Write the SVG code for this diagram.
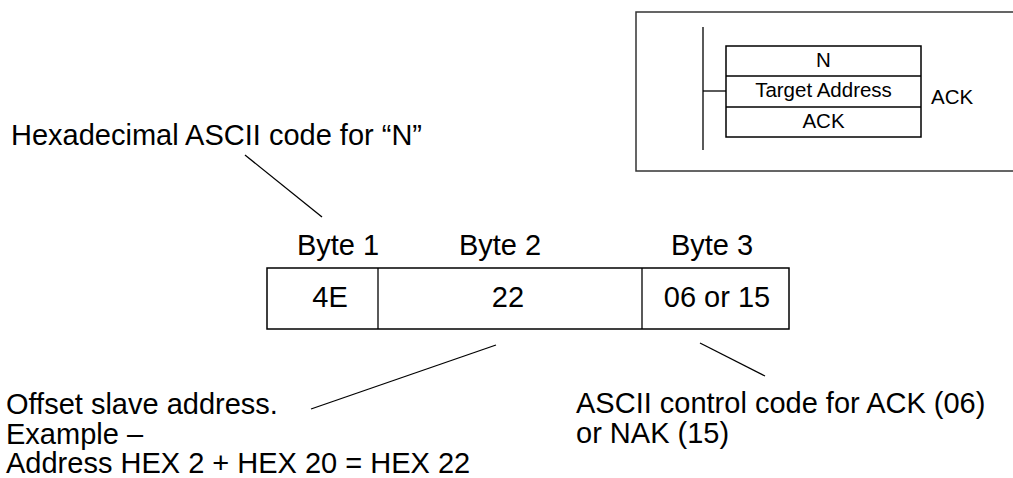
<svg xmlns="http://www.w3.org/2000/svg" width="1013" height="478" viewBox="0 0 1013 478">
<style>
  text { font-family: "Liberation Sans", Arial, sans-serif; fill: #000; }
  .big { font-size: 29px; }
  .sm { font-size: 20.5px; }
  .mid { text-anchor: middle; }
  .box { fill: #fff; stroke: #000; stroke-width: 1.5; }
  .ln { stroke: #000; stroke-width: 1.3; fill: none; }
</style>
<rect width="1013" height="478" fill="#fff"/>

<g id="inset">
  <rect x="636" y="12" width="380" height="159" fill="none" stroke="#333" stroke-width="1.5"/>
  <line class="ln" x1="703" y1="27" x2="703" y2="150"/>
  <line class="ln" x1="703" y1="91" x2="726" y2="91"/>
  <rect class="box" x="726" y="46" width="195" height="91"/>
  <line class="ln" x1="726" y1="76" x2="921" y2="76"/>
  <line class="ln" x1="726" y1="107" x2="921" y2="107"/>
  <text class="sm mid" x="823.5" y="67">N</text>
  <text class="sm mid" x="823.5" y="97">Target Address</text>
  <text class="sm mid" x="823.5" y="128">ACK</text>
  <text class="sm" x="931" y="104">ACK</text>
</g>

<g id="label-hex">
  <text class="big" x="11" y="145">Hexadecimal ASCII code for “N”</text>
</g>

<g id="frame">
  <text class="big mid" x="338" y="255">Byte 1</text>
  <text class="big mid" x="500" y="255">Byte 2</text>
  <text class="big mid" x="712" y="255">Byte 3</text>
  <rect class="box" x="267" y="268" width="522" height="61"/>
  <line class="ln" x1="378" y1="268" x2="378" y2="329" stroke-width="1.5"/>
  <line class="ln" x1="642" y1="268" x2="642" y2="329" stroke-width="1.5"/>
  <text class="big mid" x="330" y="307">4E</text>
  <text class="big mid" x="508" y="307">22</text>
  <text class="big mid" x="717" y="307">06 or 15</text>
</g>

<g id="label-offset">
  <text class="big" x="6" y="414">Offset slave address.</text>
  <text class="big" x="6" y="444">Example –</text>
  <text class="big" x="6" y="473">Address HEX 2 + HEX 20 = HEX 22</text>
</g>

<g id="label-ack">
  <text class="big" x="576" y="413">ASCII control code for ACK (06)</text>
  <text class="big" x="576" y="443">or NAK (15)</text>
</g>

<g id="connectors">
  <line class="ln" x1="245" y1="155" x2="322" y2="217"/>
  <line class="ln" x1="311" y1="409" x2="496" y2="345"/>
  <line class="ln" x1="700" y1="343" x2="765" y2="376"/>
</g>
</svg>
